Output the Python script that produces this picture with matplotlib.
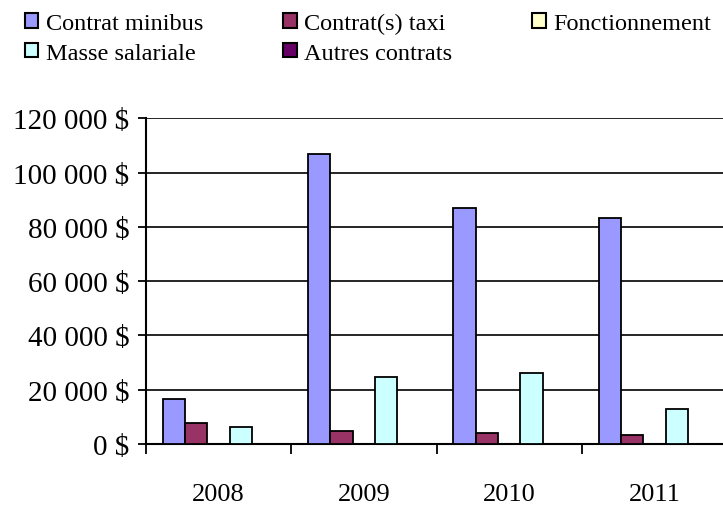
import numpy as np
import matplotlib
matplotlib.use("Agg")
from matplotlib import pyplot as plt
from matplotlib.ticker import FuncFormatter

years = ["2008", "2009", "2010", "2011"]
series = ["Contrat minibus", "Contrat(s) taxi", "Fonctionnement", "Masse salariale", "Autres contrats"]
minibus = [16600, 106800, 86800, 83100]
taxi = [7850, 4800, 4050, 3300]
fonctionnement = [0, 0, 0, 0]
masse = [6300, 24800, 26200, 12900]
autres = [0, 0, 0, 0]
colors = ["#9999FF", "#993366", "#FFFFCC", "#CCFFFF", "#660066"]

plt.rcParams['font.family'] = ['Liberation Serif', 'DejaVu Serif']

fig = plt.figure(figsize=(7.23, 5.06), dpi=100)
ax = fig.add_axes([146/723, 1-445/506, (727-146)/723, (445-119.3)/506])

data = [minibus, taxi, fonctionnement, masse, autres]
x = np.arange(len(years))
w = 1/6.5
handles = []
for i, vals in enumerate(data):
    pos = x - 0.5 + 0.75*w + w*i + w/2
    b = ax.bar(pos, vals, width=w, color=colors[i], edgecolor="black", linewidth=1.3,
               label=series[i], zorder=3)
    handles.append(b)

ax.set_xlim(-0.5, len(years) - 0.5)
ax.set_ylim(0, 120000)
ax.set_yticks(np.arange(0, 120001, 20000))
ax.yaxis.set_major_formatter(FuncFormatter(lambda v, p: "{:,.0f} $".format(v).replace(",", " ")))
ax.yaxis.grid(True, color="black", linewidth=1.2, zorder=0)

ax.set_xticks(np.arange(len(years) + 1) - 0.5)
ax.set_xticklabels([])
ax.set_xticks(x, minor=True)
ax.set_xticklabels(years, minor=True)
ax.tick_params(axis="x", which="minor", length=0, pad=28, labelsize=19)
ax.tick_params(axis="x", which="major", length=7, width=1.3, direction="out")
ax.tick_params(axis="y", length=6, width=1.3, direction="out", labelsize=21, pad=6)

for s in ["top", "right"]:
    ax.spines[s].set_visible(False)
for s in ["left", "bottom"]:
    ax.spines[s].set_linewidth(1.5)

order = [0, 3, 1, 4, 2]
leg = fig.legend([handles[k] for k in order], [series[k] for k in order], ncol=3,
                 loc="upper left", bbox_to_anchor=(25/723, 1 - 14/506), frameon=False,
                 fontsize=17.5, handlelength=0.55, handleheight=0.55, handletextpad=0.3,
                 columnspacing=3.3, labelspacing=0.35, borderaxespad=0, borderpad=0)
for h in leg.legend_handles:
    h.set_linewidth(1.5)

fig.savefig("out.png", dpi=100)
